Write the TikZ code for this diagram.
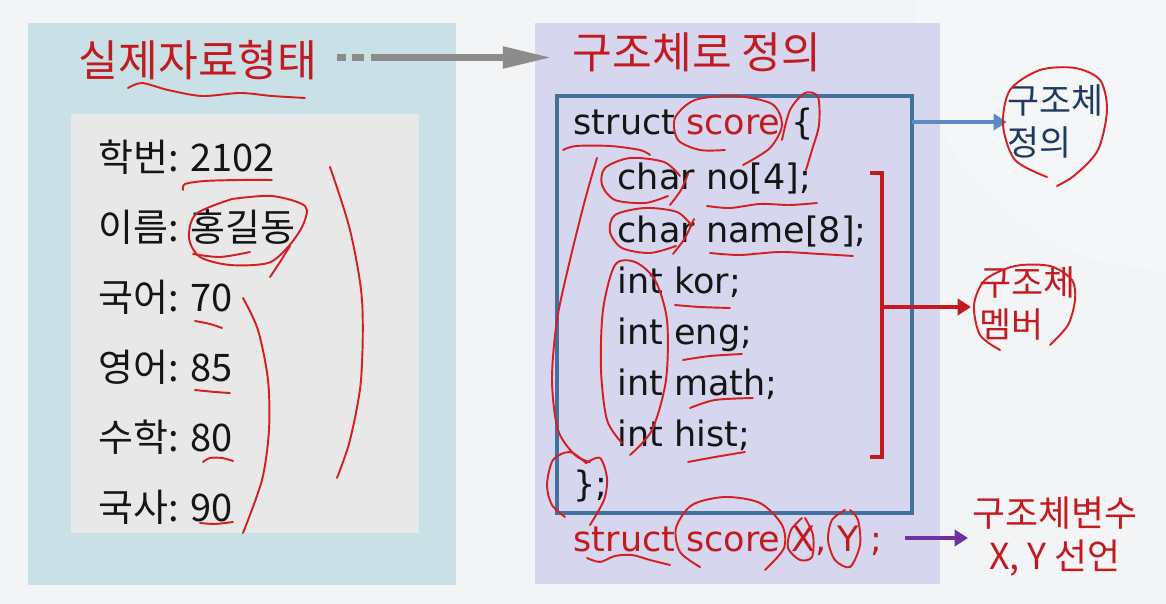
\documentclass[tikz,border=0pt]{standalone}
\usepackage{fontspec}
\setmainfont{Noto Sans CJK KR}
\newfontfamily\krfont{Noto Sans CJK KR}
\newfontfamily\codefont{DejaVu Sans}
\usetikzlibrary{arrows.meta}
\definecolor{bgc}{HTML}{F3F4F6}
\definecolor{tealc}{HTML}{C9E1E6}
\definecolor{grayboxc}{HTML}{E8E8E8}
\definecolor{lavc}{HTML}{D6D6EE}
\definecolor{bluebord}{HTML}{41719C}
\definecolor{titlered}{HTML}{C21A1F}
\definecolor{navyc}{HTML}{1F3A60}
\definecolor{arrowgray}{HTML}{8C8C8C}
\definecolor{arrowblue}{HTML}{5B8BC6}
\definecolor{arrowpurple}{HTML}{7030A0}
\definecolor{inkred}{HTML}{D42020}
\definecolor{codeblack}{HTML}{151515}
\begin{document}
\begin{tikzpicture}[x=0.01cm,y=-0.01cm,
  txt/.style={inner sep=0pt,anchor=base west},
  titletxt/.style={txt,text=titlered,font=\krfont\fontsize{12.3}{14}\selectfont},
  listtxt/.style={txt,text=codeblack,font=\krfont\fontsize{10.8}{12}\selectfont},
  codetxt/.style={txt,text=codeblack,font=\codefont\fontsize{9.95}{12}\selectfont},
  sidetxt/.style={inner sep=0pt,align=left,font=\krfont\fontsize{9.9}{12}\selectfont},
  ink/.style={draw=inkred,line width=0.55pt,line cap=round,line join=round},
  thinarrow/.style={line width=0.95pt,-{Triangle[length=3.8pt,width=4.6pt]}}]
\useasboundingbox (0,0) rectangle (1166,604);
\fill[bgc] (0,0) rectangle (1166,604);
\fill[white,opacity=0.22] (1166,20) circle [radius=250];
% panels
\fill[tealc] (28,23) rectangle (456,585);
\fill[grayboxc] (71,114) rectangle (419,533);
\fill[lavc] (535,23) rectangle (940,584);
\draw[bluebord,line width=1.15pt] (557,96) rectangle (912,513);
% titles
\node[titletxt] (t1) at (78,77) {실제자료형태};
\node[titletxt] (t2) at (572,69) {구조체로 정의};
% gray arrow
\fill[arrowgray] (337,54) rectangle (346,61);
\fill[arrowgray] (352,54) rectangle (364,61);
\coordinate (ga) at (371,57.5);
\coordinate (gb) at (552,57.5);
\draw[arrowgray,line width=2pt,-{Triangle[length=14pt,width=5.8pt]}] (ga) -- (gb);
% left list
\node[listtxt] (l1) at (98,172) {학번: 2102};
\node[listtxt] (l2) at (98,242) {이름: 홍길동};
\node[listtxt] (l3) at (98,312) {국어: 70};
\node[listtxt] (l4) at (98,382) {영어: 85};
\node[listtxt] (l5) at (98,452) {수학: 80};
\node[listtxt] (l6) at (98,522) {국사: 90};
% code
\node[codetxt] (c0) at (573,135) {struct \textcolor{titlered}{score} \{};
\node[codetxt] (c1) at (617,190) {char no[4];};
\node[codetxt] (c2) at (617,243) {char name[8];};
\node[codetxt] (c3) at (617,294) {int kor;};
\node[codetxt] (c4) at (617,345) {int eng;};
\node[codetxt] (c5) at (617,396) {int math;};
\node[codetxt] (c6) at (617,447) {int hist;};
\node[codetxt] (c7) at (573,497) {\};};
\node[codetxt,text=titlered] (c8) at (573,552) {struct score X, Y ;};
% bracket
\coordinate (bt) at (870,173);
\coordinate (bb) at (870,457);
\coordinate (bm) at (882,307);
\draw[titlered,line width=0.9pt] (bt) -| (882,457) -- (bb);
% side labels
\node[sidetxt,text=navyc,anchor=north west] (s1) at (1007,84) {구조체\\정의};
\node[sidetxt,text=titlered,anchor=north west] (s2) at (979,266) {구조체\\멤버};
\node[sidetxt,text=titlered,align=center,anchor=north,font=\krfont\fontsize{10.2}{12.3}\selectfont] (s3) at (1055,496) {구조체변수\\X, Y 선언};
\coordinate (ba) at (912,122);
\draw[arrowblue,thinarrow] (ba) -- (s1.west |- ba);
\draw[titlered,thinarrow] (bm) -- (971,307);
\coordinate (pa) at (905,538);
\draw[arrowpurple,thinarrow] (pa) -- (968,538);
% ---- handwritten red marks ----
\draw[ink] plot[smooth] coordinates {(128,88) (142,83) (168,90) (202,96) (240,93) (272,96) (305,98)};
\draw[ink] plot[smooth] coordinates {(183,190) (185,184) (205,181) (240,180) (272,180)};
\draw[ink] plot[smooth] coordinates {(232,199) (272,196) (305,206) (303,225) (288,247) (268,263) (230,265) (200,257) (189,238) (196,214) (232,199)};
\draw[ink] plot[smooth] coordinates {(290,246) (280,262) (270,277)};
\draw[ink] plot[smooth] coordinates {(193,254) (220,257) (250,252)};
\draw[ink] plot[smooth] coordinates {(195,321) (210,324) (222,328)};
\draw[ink] plot[smooth] coordinates {(195,390) (215,392) (230,393)};
\draw[ink] plot[smooth] coordinates {(203,462) (210,458) (222,458) (233,461)};
\draw[ink] plot[smooth] coordinates {(200,523) (215,524) (233,522)};
\draw[ink] plot[smooth] coordinates {(243,298) (258,330) (268,380) (269,430) (262,480) (243,533)};
\draw[ink] plot[smooth] coordinates {(330,167) (350,230) (362,300) (361,380) (350,440) (337,478)};
% right panel marks
\draw[ink] plot[smooth] coordinates {(743,165) (770,148) (782,125) (772,104) (735,96) (695,100) (675,118) (678,140) (700,150) (725,150)};
\draw[ink] plot[smooth] coordinates {(782,140) (790,110) (805,93) (818,97) (819,125) (812,150) (806,170)};
\draw[ink] plot[smooth] coordinates {(563,150) (576,146) (610,146) (640,150) (650,155)};
\draw[ink] plot[smooth] coordinates {(680,176) (664,162) (630,158) (605,168) (602,185) (615,200) (645,203) (668,196)};
\draw[ink] plot[smooth] coordinates {(670,205) (681,190) (688,174)};
\draw[ink] plot[smooth] coordinates {(692,226) (677,212) (645,208) (615,215) (610,232) (622,248) (650,253) (676,246)};
\draw[ink] plot[smooth] coordinates {(673,254) (685,238) (694,219)};
\draw[ink] plot[smooth] coordinates {(707,206) (730,208) (760,204) (790,205) (817,203)};
\draw[ink] plot[smooth] coordinates {(710,253) (740,255) (780,252) (820,254) (853,256)};
\draw[ink] plot[smooth] coordinates {(630,455) (652,430) (666,380) (667,320) (655,280) (635,262) (615,265) (603,310) (601,370) (607,420) (622,443)};
\draw[ink] plot[smooth] coordinates {(675,305) (700,307) (730,308)};
\draw[ink] plot[smooth] coordinates {(683,360) (710,356) (742,354)};
\draw[ink] plot[smooth] coordinates {(690,408) (715,400) (753,398)};
\draw[ink] plot[smooth] coordinates {(688,462) (715,457) (745,452)};
\draw[ink] plot[smooth] coordinates {(597,158) (585,200) (570,260) (557,320) (552,380) (558,430) (575,455) (590,462)};
\draw[ink] plot[smooth] coordinates {(586,463) (570,452) (553,460) (547,485) (552,505) (565,517)};
\draw[ink] plot[smooth] coordinates {(586,463) (600,458) (607,478) (604,500) (590,525)};
\draw[ink] plot[smooth] coordinates {(700,567) (680,552) (676,528) (692,505) (725,497) (760,503) (782,525) (784,548) (765,570)};
\draw[ink] plot[smooth] coordinates {(587,558) (600,562) (615,556) (632,555) (650,560) (670,565)};
\draw[ink] plot[smooth] coordinates {(802,518) (791,530) (788,548) (800,560) (812,557) (813,535) (805,518)};
\draw[ink] plot[smooth] coordinates {(845,510) (832,520) (828,540) (835,560) (850,567) (860,545) (858,520) (850,510)};
\draw[ink] plot[smooth] coordinates {(1047,177) (1015,160) (1003,125) (1010,90) (1040,70) (1075,68) (1100,80) (1107,110) (1098,150) (1075,175) (1057,186)};
\draw[ink] plot[smooth] coordinates {(1000,350) (980,335) (974,305) (985,280) (1015,266) (1050,266) (1072,280) (1075,300) (1068,325) (1050,345)};
\end{tikzpicture}
\end{document}
